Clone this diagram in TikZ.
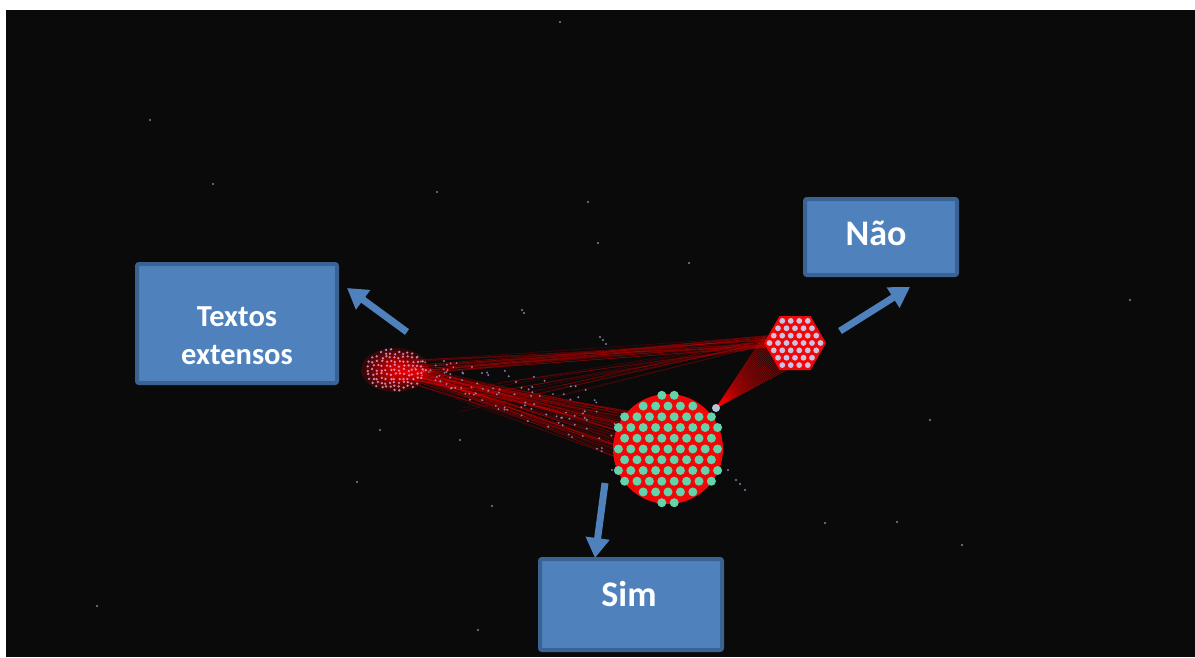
\documentclass[tikz,border=0pt]{standalone}
\usepackage{fontspec}
\setmainfont{Carlito}
\usetikzlibrary{arrows.meta}

\definecolor{bg}{HTML}{0A0A0A}
\definecolor{boxfill}{HTML}{4F81BD}
\definecolor{boxline}{HTML}{3A6394}
\definecolor{clusterred}{HTML}{F00808}
\definecolor{nodeteal}{HTML}{62D3AA}
\definecolor{lav}{HTML}{CAC3E4}
\definecolor{pinkdot}{HTML}{E8A6D2}
\definecolor{dust}{HTML}{938AB8}

\begin{document}
\begin{tikzpicture}[x=1pt,y=-1pt,
  label box/.style={draw=boxline, line width=4pt, fill=boxfill, rounded corners=2pt, inner sep=0pt},
  label text/.style={text=white, font=\bfseries, align=center, inner sep=0pt},
  block arrow/.style={draw=boxfill, line width=7pt, -{Triangle[width=23pt,length=20pt]}},
  edge/.style={draw=red, line width=0.6pt, opacity=0.22},
  fan/.style={draw=red, line width=0.7pt, opacity=0.5},
  speck/.style={fill=dust, opacity=0.9}]

% page and dark canvas
\useasboundingbox (0,0) rectangle (1195,657);
\fill[white] (0,0) rectangle (1195,657);
\fill[bg] (6,10) rectangle (1195,657);

% cluster centres
\coordinate (big) at (668,449);
\coordinate (hex) at (795,343);
\coordinate (small) at (395,370);
\coordinate (hub) at (716,408);

% edges from the small cluster to the large cluster
\pgfmathsetseed{7}
\foreach \k in {1,...,80}{
  \pgfmathsetmacro\sx{400+14*rand}
  \pgfmathsetmacro\sy{370+8*rand}
  \pgfmathsetmacro\a{198+28*rand}
  \pgfmathsetmacro\tx{668+52*cos(\a)}
  \pgfmathsetmacro\ty{449+52*sin(\a)}
  \draw[edge] (\sx,\sy) -- (\tx,\ty);
}
% edges from the small cluster to the hexagonal cluster
\foreach \k in {1,...,30}{
  \pgfmathsetmacro\sx{405+14*rand}
  \pgfmathsetmacro\sy{368+8*rand}
  \pgfmathsetmacro\tx{768+3*rand}
  \pgfmathsetmacro\ty{341+6*rand}
  \draw[edge] (\sx,\sy) -- (\tx,\ty);
}
% a few edges from the scattered nodes up to the hexagonal cluster
\foreach \k in {1,...,16}{
  \pgfmathsetmacro\sx{520+70*rand}
  \pgfmathsetmacro\sy{395+18*rand}
  \pgfmathsetmacro\ty{342+6*rand}
  \draw[edge] (\sx,\sy) -- (767,\ty);
}
% fan between the two right-hand clusters
\foreach \k in {0,...,24}{
  \pgfmathsetmacro\t{\k/24}
  \pgfmathsetmacro\tx{764+24*\t}
  \pgfmathsetmacro\ty{336+33*\t}
  \draw[fan] (hub) -- (\tx,\ty);
}

% scattered small nodes along the edges
\foreach \k in {1,...,110}{
  \pgfmathsetmacro\t{rnd}
  \pgfmathsetmacro\px{415+200*\t+8*rand}
  \pgfmathsetmacro\py{366+55*\t+26*rand*(0.4+\t)}
  \fill[speck] (\px,\py) circle (1.1);
}

% small dense cluster on the left
\foreach \rx/\ry in {34/22,29/19,24/16,20/13,16/11,12/9,8/7,5/5}{
  \fill[red, opacity=0.17] (small) ellipse ({\rx} and {\ry});
}
\fill[red, opacity=0.18] (400,363) -- (432,372) -- (400,381) -- cycle;
\foreach \i in {-6,...,7}{
  \foreach \j in {-5,...,5}{
    \pgfmathsetmacro\px{\i*4.4+1.2*rand}
    \pgfmathsetmacro\py{\j*4.2+1.2*rand}
    \pgfmathtruncatemacro\ok{((\px/31)^2+(\py/21)^2)<1}
    \ifnum\ok=1 \fill[pinkdot, opacity=0.8] (395+\px,370+\py) circle (1.3); \fi
  }
}

% hexagonal cluster
\fill[clusterred] (826,343) -- (810.5,316) -- (779.5,316) -- (764,343) -- (779.5,370) -- (810.5,370) -- cycle;
\foreach \i in {-3,...,3}{
  \foreach \j in {-3,...,3}{
    \pgfmathtruncatemacro\ok{abs(\i+\j)<=3}
    \ifnum\ok=1
      \pgfmathsetmacro\px{\i*8.5+\j*4.25}
      \pgfmathsetmacro\py{\j*7.36}
      \fill[lav] (795+\px,343+\py) circle (2.9);
    \fi
  }
}

% large cluster
\fill[clusterred] (big) circle (55);
\foreach \i in {-7,...,7}{
  \foreach \j in {-6,...,6}{
    \pgfmathsetmacro\px{\i*1.24+\j*0.62}
    \pgfmathsetmacro\py{\j*1.074}
    \pgfmathtruncatemacro\ok{(\px*\px+\py*\py)<(5.65*5.65)}
    \ifnum\ok=1 \fill[nodeteal] (668+10*\px,449+10*\py) circle (4.5); \fi
  }
}
\fill[lav!80!nodeteal] (hub) circle (4);

% isolated nodes in the background
\foreach \px/\py in {603/340,606/344,600/337,522/310,524/313,588/202,437/192,213/184,689/263,598/243,
  560/22,97/606,478/630,357/482,825/523,897/522,962/545,736/480,740/484,745/490,460/440,
  492/506,380/430,728/470,612/470,930/420,1130/300,150/120}{
  \fill[speck] (\px,\py) circle (1.1);
}

% label boxes
\node[label box, minimum width=200pt, minimum height=119pt] (textosBox) at (237,323.5) {};
\node[label text, font=\bfseries\fontsize{30.5}{38}\selectfont] (textosText) at (237,336) {Textos\\extensos};
\node[label box, minimum width=182pt, minimum height=91pt] (simBox) at (631,604.5) {};
\node[label text, font=\bfseries\fontsize{36}{40}\selectfont] (simText) at (629,594) {Sim};
\node[label box, minimum width=152pt, minimum height=76pt] (naoBox) at (881,237) {};
\node[label text, font=\bfseries\fontsize{36}{40}\selectfont] (naoText) at (876,233) {Não};

% block arrows pointing at the labels
\coordinate (tailT) at (407,332);
\coordinate (tipT) at (347,288);
\coordinate (tailN) at (840,331);
\coordinate (tipN) at (910,287);
\coordinate (tailS) at (605,483);
\coordinate (tipS) at (595,558);
\draw[block arrow] (tailT) -- (tipT);
\draw[block arrow] (tailN) -- (tipN);
\draw[block arrow] (tailS) -- (tipS);
\end{tikzpicture}
\end{document}
